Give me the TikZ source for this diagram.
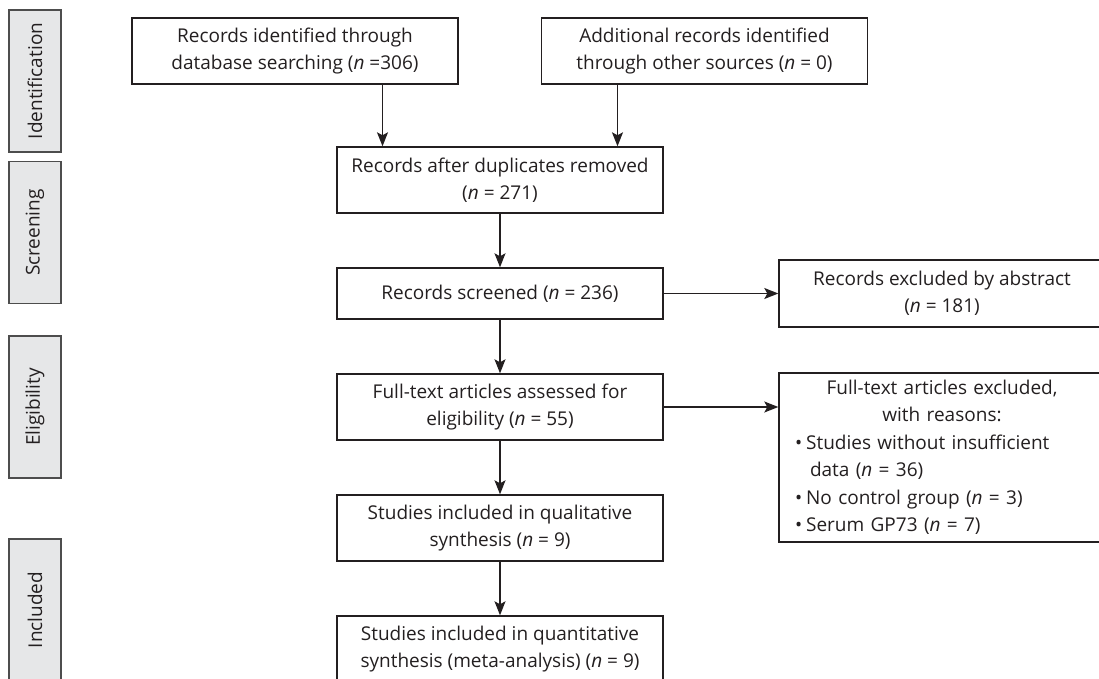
\documentclass[tikz,border=0pt]{standalone}
\usepackage{fontspec}
\setmainfont{Open Sans}
\usetikzlibrary{arrows.meta}
\definecolor{flow line color}{HTML}{231F20}
\definecolor{flow text color}{HTML}{231F20}
\definecolor{stage line color}{HTML}{4D4D4D}
\definecolor{stage fill color}{HTML}{E6E7E8}
\tikzset{
    x={1pt},
    y={-1pt},
    flow text/.style={
        font={\fontsize{19}{27.5}\selectfont},
        text=flow text color,
    },
    flow box/.style={
        draw=flow line color,
        line width={1.4pt},
        align=center,
        inner sep=0pt,
        minimum width={326},
        minimum height={66},
        flow text,
    },
    stage box/.style={
        draw=stage line color,
        fill=stage fill color,
        line width={1.4pt},
        rotate=90,
        inner sep=0pt,
        minimum width={142},
        minimum height={52},
        flow text,
    },
    flow arrow/.style={
        draw=flow line color,
        line width={1.4pt},
        -{Stealth[length=14pt, width=11pt, inset=3pt]},
    },
}
\begin{document}
\begin{tikzpicture}
\useasboundingbox (0,0) rectangle (1099,679);
\clip (0,0) rectangle (1099,679);
% stages
\node[stage box] (identification) at (35,81) {Identification};
\node[stage box] (screening) at (35,232.5) {Screening};
\node[stage box] (eligibility) at (35,407) {Eligibility};
\node[stage box] (included) at (35,610) {Included};
% boxes
\node[flow box] (database) at (295,51) {Records identified through\\database searching (\textit{n} =306)};
\node[flow box] (other) at (704.5,51) {Additional records identified\\through other sources (\textit{n} = 0)};
\node[flow box] (dedup) at (500,180) {Records after duplicates removed\\(\textit{n} = 271)};
\node[flow box, minimum height={51}] (screened) at (500,293.5) {Records screened (\textit{n} = 236)};
\node[flow box, minimum height={67}] (abstract) at (942,293.5) {Records excluded by abstract\\(\textit{n} = 181)};
\node[flow box] (fulltext) at (500,407) {Full-text articles assessed for\\eligibility (\textit{n} = 55)};
\node[flow box, minimum height={169}, text width={294}, align=left] (reasons) at (942,457.5) {%
    {\centering Full-text articles excluded,\\with reasons:\par}%
    \textbullet\hspace{4pt}Studies without insufficient\\
    \hspace*{15pt}data (\textit{n} = 36)\\
    \textbullet\hspace{4pt}No control group (\textit{n} = 3)\\
    \textbullet\hspace{4pt}Serum GP73 (\textit{n} = 7)};
\node[flow box] (qualitative) at (500,528) {Studies included in qualitative\\synthesis (\textit{n} = 9)};
\node[flow box] (quantitative) at (500,649) {Studies included in quantitative\\synthesis (meta-analysis) (\textit{n} = 9)};
% arrows
\draw[flow arrow] ([xshift=87.5]database.south) -- ([xshift=87.5]database.south |- dedup.north);
\draw[flow arrow] ([xshift=-87]other.south) -- ([xshift=-87]other.south |- dedup.north);
\draw[flow arrow] (dedup) -- (screened);
\draw[flow arrow] (screened) -- (fulltext);
\draw[flow arrow] (fulltext) -- (qualitative);
\draw[flow arrow] (qualitative) -- (quantitative);
\draw[flow arrow] (screened) -- (abstract);
\draw[flow arrow] (fulltext.east) -- (fulltext.east -| reasons.west);
\end{tikzpicture}
\end{document}
